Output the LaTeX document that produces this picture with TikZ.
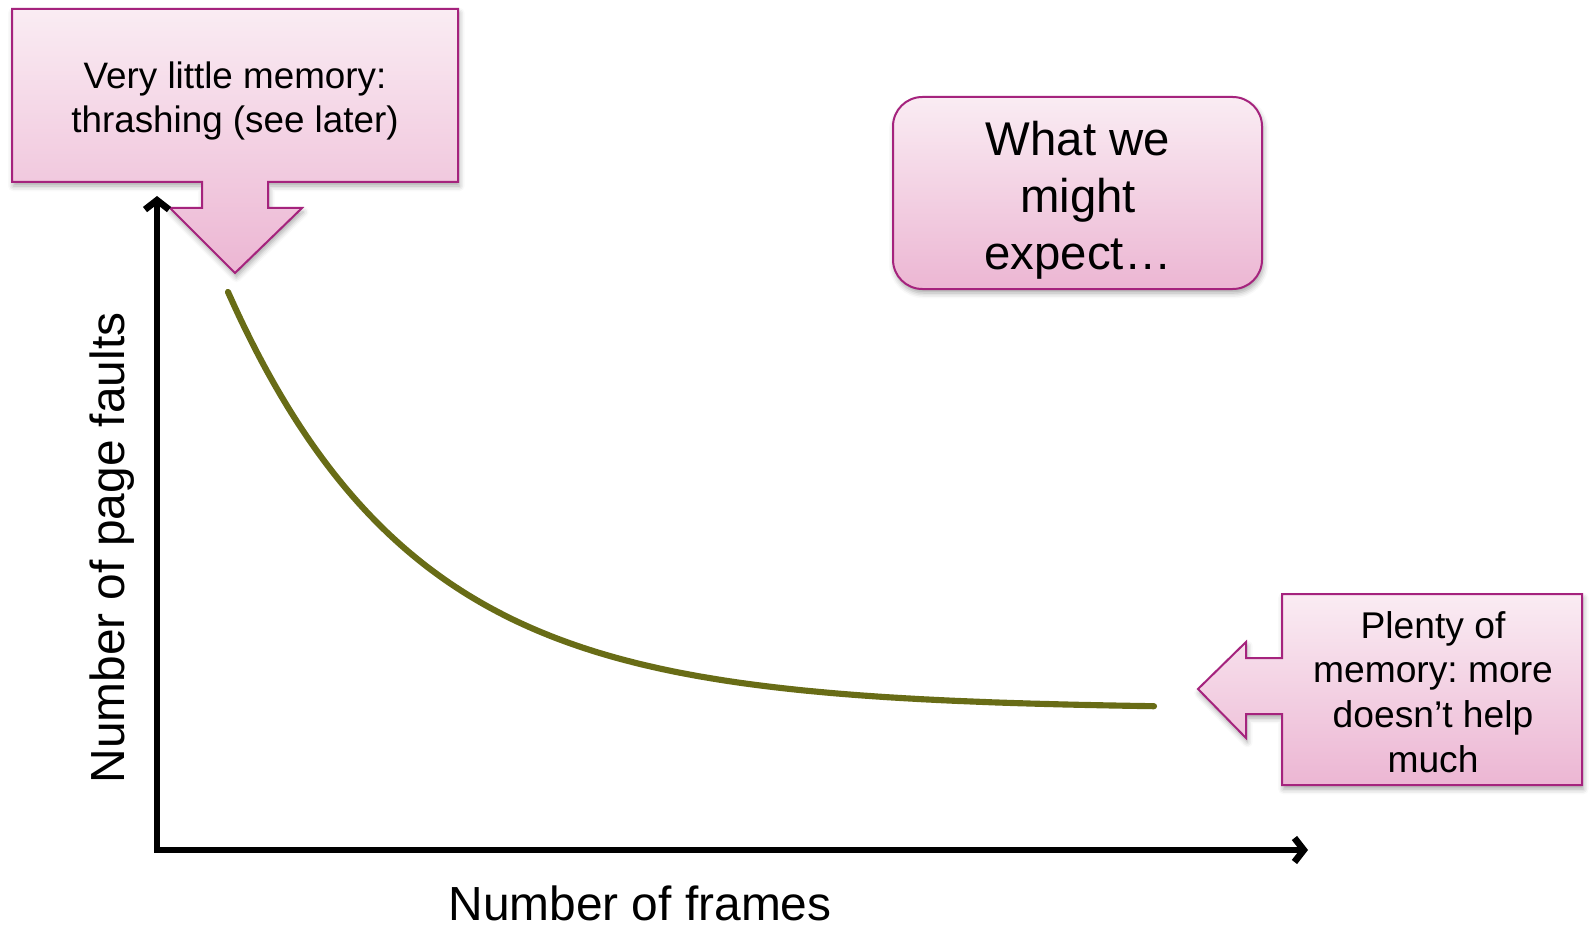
\documentclass[tikz,border=0pt]{standalone}
\usepackage{fontspec}
\setmainfont{Liberation Sans}
\usetikzlibrary{arrows.meta,shadows.blur}
\frenchspacing

\definecolor{calloutedge}{RGB}{165,35,125}
\definecolor{callouttop}{RGB}{250,236,243}
\definecolor{calloutbottom}{RGB}{236,182,211}
\definecolor{curveolive}{RGB}{104,108,22}

\begin{document}
\begin{tikzpicture}[x=0.75pt,y=-0.75pt,
  callout/.style={draw=calloutedge,line width=1.5pt,line join=miter,
    top color=callouttop,bottom color=calloutbottom,
    blur shadow={shadow xshift=1pt,shadow yshift=-3pt,shadow blur radius=4pt,shadow opacity=35}},
  axisline/.style={line width=5pt,line join=miter,
    {Straight Barb[length=7pt,width=18pt]}-{Straight Barb[length=7pt,width=18pt]}},
  curveline/.style={curveolive,line width=4.6pt,line cap=round},
  boxtext/.style={align=center,text=black,inner sep=0pt},
  axislabel/.style={font=\fontsize{35.9}{43}\selectfont,inner sep=0pt}]

\useasboundingbox (0,0) rectangle (1591,927);

% callout pointing down at the steep end of the curve
\path[callout] (12,9) -- (458,9) -- (458,182) -- (268,182) -- (268,208)
  -- (302,208) -- (235,273) -- (170,208) -- (202,208) -- (202,182)
  -- (12,182) -- cycle;
\node[boxtext,font=\fontsize{27.6}{32.3}\selectfont] (lowmem) at (235,101)
  {Very little memory:\\thrashing (see later)};

% rounded title box
\path[callout,rounded corners=22pt] (893,97) rectangle (1262,289);
\node[boxtext,font=\fontsize{35.5}{42.8}\selectfont] (expect) at (1078,200)
  {What we\\might\\expect…};

% callout pointing left at the flat end of the curve
\path[callout] (1282,594) -- (1582,594) -- (1582,785) -- (1282,785)
  -- (1282,714) -- (1246,714) -- (1246,738) -- (1198,689) -- (1246,642)
  -- (1246,658) -- (1282,658) -- cycle;
\node[boxtext,font=\fontsize{27.9}{33.5}\selectfont] (plenty) at (1433,692)
  {Plenty of\\memory: more\\doesn’t help\\much};

% axes
\coordinate (ytop) at (157,196);
\coordinate (origin) at (157,850);
\coordinate (xend) at (1308,850);
\draw[axisline] (ytop) -- (origin) -- (xend);

\node[axislabel,rotate=90,anchor=base] (ylabel) at (124,548) {Number of page faults};
\node[axislabel,anchor=base] (xlabel) at (640,920) {Number of frames};

% page-fault curve
\draw[curveline] plot[domain=228:1154,samples=150,smooth]
  (\x,{709-417*exp(-0.0054*(\x-228))});
\end{tikzpicture}
\end{document}
